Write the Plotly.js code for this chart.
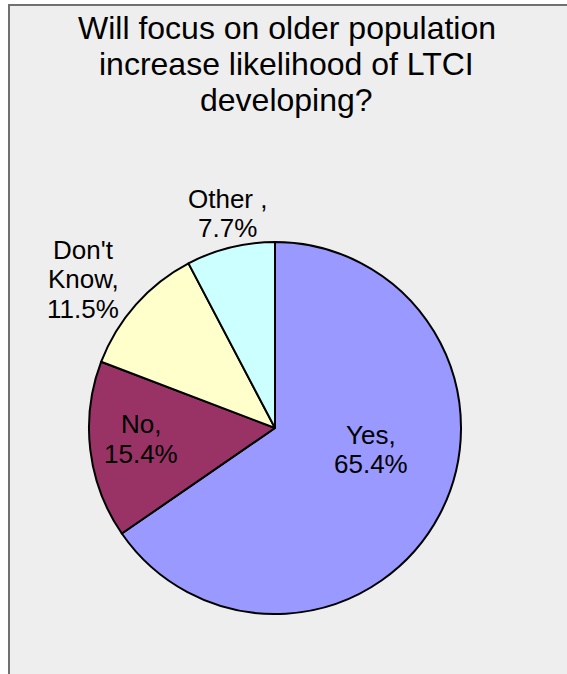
<!DOCTYPE html>
<html>
<head>
<meta charset="utf-8">
<script src="https://cdn.plot.ly/plotly-3.0.1.min.js"></script>
<style>
  html, body { margin: 0; padding: 0; background: #ffffff; }
  #chart { width: 567px; height: 674px; }
</style>
</head>
<body>
<div id="chart"></div>
<script>
// ---- data ----
const categories = ["Yes", "No", "Don't Know", "Other"];
const values = [65.4, 15.4, 11.5, 7.7];
const labelTexts = ["Yes,", "No,", "Don't<br>Know,", "Other ,"];
const sliceColors = ["#9999ff", "#993366", "#ffffcc", "#ccffff"];
const titleLines = ["Will focus on older population", "increase likelihood of LTCI", "developing?"];

// ---- layout helpers ----
const W = 567, H = 674;
const fontFam = "Liberation Sans, Arial, sans-serif";
const lineGap = 29.5;
const titleGap = 36;
// label block centres in pixels (x, y from top)
const labelPos = [[371, 449.5], [141, 439], [83, 279], [227, 213.5]];
const titleCenter = [286.5, 63.8];

const annotations = [];
function addLines(lines, cx, cy, gap, size) {
  const n = lines.length;
  lines.forEach((ln, j) => {
    const yPix = cy + (j - (n - 1) / 2) * gap;
    annotations.push({
      text: ln,
      x: cx / W,
      y: 1 - yPix / H,
      xref: "paper", yref: "paper",
      xanchor: "center", yanchor: "middle",
      showarrow: false,
      font: { family: fontFam, size: size, color: "#000000" }
    });
  });
}
addLines(titleLines, titleCenter[0], titleCenter[1], titleGap, 32);
categories.forEach((c, i) => {
  const lines = (labelTexts[i] + "<br>" + values[i].toFixed(1) + "%").split("<br>");
  addLines(lines, labelPos[i][0], labelPos[i][1], lineGap, 26);
});

const trace = {
  type: "pie",
  labels: categories,
  values: values,
  sort: false,
  direction: "clockwise",
  rotation: 0,
  textinfo: "none",
  hoverinfo: "label+percent",
  marker: { colors: sliceColors, line: { color: "#000000", width: 2 } },
  domain: { x: [89 / W, 461 / W], y: [60 / H, 432 / H] }
};

const layout = {
  width: W, height: H,
  margin: { l: 0, r: 0, t: 0, b: 0 },
  paper_bgcolor: "#ffffff",
  showlegend: false,
  shapes: [{
    type: "rect", xref: "paper", yref: "paper", layer: "below",
    x0: 9 / W, x1: 1.02, y0: -0.02, y1: 1 - 5 / H,
    fillcolor: "#eeeeee",
    line: { color: "#707070", width: 2 }
  }],
  annotations: annotations
};

Plotly.newPlot("chart", [trace], layout, { displayModeBar: false, staticPlot: true });
</script>
</body>
</html>
